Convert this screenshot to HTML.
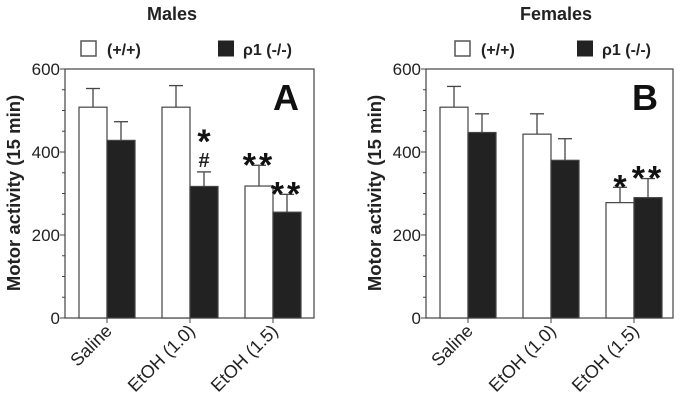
<!DOCTYPE html>
<html><head><meta charset="utf-8"><style>
body{margin:0;background:#fff;}
svg{display:block;font-family:"Liberation Sans",Arial,sans-serif;}
</style></head><body>
<svg id="c" width="681" height="406" viewBox="0 0 681 406"></svg>
<script>
const categories=["Saline","EtOH (1.0)","EtOH (1.5)"];
const maleWT=[508,508,318];
const maleWTerr=[45,52,50];
const maleKO=[428,317,255];
const maleKOerr=[45,35,43];
const femWT=[508,443,278];
const femWTerr=[50,49,37];
const femKO=[447,380,290];
const femKOerr=[45,52,46];
const yTicks=[0,200,400,600];
const maleMarks=[[null,null],[null,"*#"],["**","**"]];
const femMarks=[[null,null],[null,null],["*","**"]];
const NS="http://www.w3.org/2000/svg";
const svg=document.getElementById('c');
function mk(tag,attrs,parent){const e=document.createElementNS(NS,tag);for(const k in attrs)e.setAttribute(k,attrs[k]);(parent||svg).appendChild(e);return e;}
function panel(cfg){
  const g=mk('g',{});
  
  
  const L=cfg.left,R=cfg.right,T=69,B=318;
  const y=v=>B-v/600*(B-T);
  const cx=i=>cfg.c0+i*83;
  const t=mk('text',{x:cfg.titleX,y:20,'text-anchor':'middle','font-size':18,'font-weight':'bold',fill:'#222'},g);t.textContent=cfg.title;
  
  const l1=mk('rect',{x:cfg.leg1,y:41,width:15,height:15,fill:'#fff',stroke:'#555','stroke-width':1.5},g);
  
  const lt1=mk('text',{x:cfg.leg1+26,y:55,'font-size':16,'font-weight':'bold',fill:'#222'},g);lt1.textContent='(+/+)';
  
  const l2=mk('rect',{x:cfg.leg2,y:40.5,width:16,height:16,fill:'#222'},g);
  
  const lt2=mk('text',{x:cfg.leg2+25,y:55,'font-size':16,'font-weight':'bold',fill:'#222'},g);lt2.textContent='ρ1 (-/-)';
  
  const fr=mk('rect',{x:L,y:T,width:R-L,height:B-T,fill:'none',stroke:'#444','stroke-width':1.2},g);
  
  for(let v=0;v<=600;v+=50){mk('line',{x1:L-(v%200===0?5:3),x2:L,y1:y(v),y2:y(v),stroke:'#444'},g);}
  yTicks.forEach(v=>{const tt=mk('text',{x:L-5,y:y(v)+6,'text-anchor':'end','font-size':17,fill:'#222'},g);tt.textContent=v;
    });
  const yt=mk('text',{transform:`translate(${L-45},193) rotate(-90)`,'text-anchor':'middle','font-size':18.5,'font-weight':'bold',fill:'#222'},g);
  yt.textContent='Motor activity (15 min)';
  
  categories.forEach((c,i)=>{
    const x=cx(i);
    mk('line',{x1:x,x2:x,y1:B,y2:B+5,stroke:'#444'},g);
    const xl=mk('text',{transform:`translate(${x+6},${B+14}) rotate(-45)`,'text-anchor':'end','font-size':18,fill:'#222'},g);
    xl.textContent=c;
    [[cfg.wt,cfg.wtErr,'#fff',x-28,'bar-wt'],[cfg.ko,cfg.koErr,'#222',x,'bar-ko']].forEach(([vals,errs,fill,bx,nm],k)=>{
      const v=vals[i],e=errs[i],mid=bx+14;
      mk('line',{x1:mid,x2:mid,y1:y(v),y2:y(v+e),stroke:'#444','stroke-width':1.3},g);
      mk('line',{x1:mid-7,x2:mid+7,y1:y(v+e),y2:y(v+e),stroke:'#444','stroke-width':1.3},g);
      const r=mk('rect',{x:bx,y:y(v),width:28,height:B-y(v),fill:fill,stroke:'#444','stroke-width':1.2},g);
      
      const m=cfg.marks[i][k];
      if(m){
        let top=y(v+e)-5;
        if(m.includes('#')){const h=mk('text',{x:mid,y:top,'text-anchor':'middle','font-size':20,'font-weight':'bold',fill:'#222'},g);h.textContent='#';
          top-=30;}
        const s=m.replace('#','');
        const st=mk('text',{x:mid,y:top+16,'text-anchor':'middle','font-size':34,'font-weight':'bold','letter-spacing':s.length>1?3:0,fill:'#111'},g);
        st.textContent=s;
      }
    });
  });
  const pl=mk('text',{x:R-15,y:110,'text-anchor':'end','font-size':36,'font-weight':'bold',fill:'#111'},g);pl.textContent=cfg.letter;
  
}
panel({name:'males-panel',title:'Males',titleX:172,left:65,right:314,c0:107,leg1:81,leg2:218,wt:maleWT,wtErr:maleWTerr,ko:maleKO,koErr:maleKOerr,marks:maleMarks,letter:'A'});
panel({name:'females-panel',title:'Females',titleX:556,left:426,right:673,c0:468,leg1:455,leg2:577,wt:femWT,wtErr:femWTerr,ko:femKO,koErr:femKOerr,marks:femMarks,letter:'B'});
</script>
</body></html>
